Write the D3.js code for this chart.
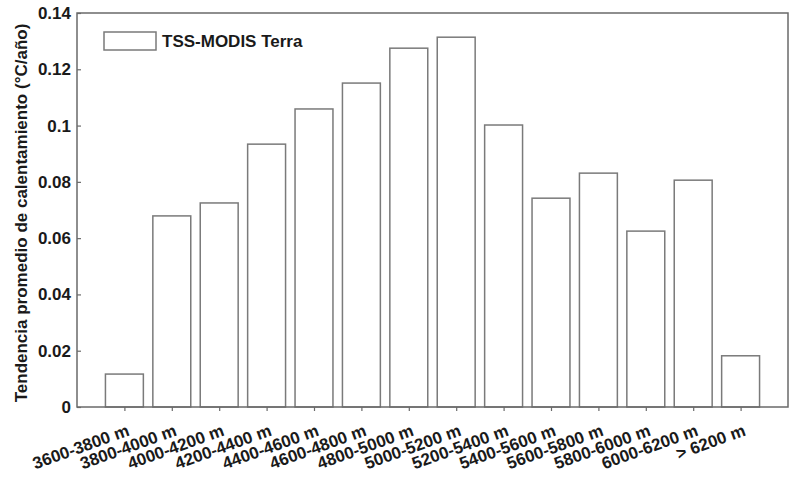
<!DOCTYPE html>
<html>
<head>
<meta charset="utf-8">
<script src="https://d3js.org/d3.v7.min.js"></script>
<style>
  body { margin: 0; background: #fff; }
  text { font-family: "Liberation Sans", Arial, sans-serif; font-weight: bold; fill: #1a1a1a; }
</style>
</head>
<body>
<script>
// altitude bands and warming trend (degC/year)
var categories = ["3600-3800 m", "3800-4000 m", "4000-4200 m", "4200-4400 m", "4400-4600 m",
                  "4600-4800 m", "4800-5000 m", "5000-5200 m", "5200-5400 m", "5400-5600 m",
                  "5600-5800 m", "5800-6000 m", "6000-6200 m", "> 6200 m"];
var values = [0.0117, 0.0679, 0.0725, 0.0934, 0.1059, 0.1151, 0.1275, 0.1314,
              0.1002, 0.0742, 0.0831, 0.0625, 0.0806, 0.0182];
var yTicks = [0, 0.02, 0.04, 0.06, 0.08, 0.1, 0.12, 0.14];
var seriesName = "TSS-MODIS Terra";
var yTitle = "Tendencia promedio de calentamiento (°C/año)";

(function() {
  var W = 789, H = 479;
  var pl = 77, pr = 788, pt = 13, pb = 407;

  var svg = d3.select("body").append("svg").attr("width", W).attr("height", H);

  // matlab-like: positions 1..n, limits 0..n+1
  var x = d3.scaleLinear().domain([0, categories.length + 1]).range([pl, pr]);
  var y = d3.scaleLinear().domain([0, 0.14]).range([pb, pt]);
  var bw = (x(1) - x(0)) * 0.8;

  // bars
  svg.selectAll("rect.bar")
    .data(values)
    .enter().append("rect")
    .attr("class", "bar")
    .attr("x", function(d, i) { return x(i + 1) - bw / 2; })
    .attr("y", function(d) { return y(d); })
    .attr("width", bw)
    .attr("height", function(d) { return y(0) - y(d); })
    .attr("fill", "#fff")
    .attr("stroke", "#7a7a7a")
    .attr("stroke-width", 1.5);

  // frame
  svg.append("rect")
    .attr("x", pl).attr("y", pt)
    .attr("width", pr - pl).attr("height", pb - pt)
    .attr("fill", "none").attr("stroke", "#6a6a6a").attr("stroke-width", 1.5);

  // y axis
  var yAxis = d3.axisLeft(y).tickValues(yTicks).tickSize(-4).tickPadding(6)
    .tickFormat(function(d) { return d === 0 ? "0" : String(+d.toFixed(2)); });
  var gy = svg.append("g").attr("transform", "translate(" + pl + ",0)").call(yAxis);
  gy.select(".domain").remove();
  gy.selectAll(".tick line").attr("stroke", "#6a6a6a").attr("stroke-width", 1.2);
  gy.selectAll(".tick text").style("font-size", "17px").attr("fill", "#1a1a1a");

  // x axis
  var xAxis = d3.axisBottom(x).tickValues(d3.range(1, categories.length + 1)).tickSize(4).tickFormat("");
  var gx = svg.append("g").attr("transform", "translate(0," + pb + ")").call(xAxis);
  gx.select(".domain").remove();
  gx.selectAll(".tick line").attr("stroke", "#6a6a6a").attr("stroke-width", 1.2);

  svg.selectAll("text.xl")
    .data(categories)
    .enter().append("text")
    .attr("class", "xl")
    .attr("text-anchor", "end")
    .attr("transform", function(d, i) { return "translate(" + (x(i + 1) + 6) + "," + (pb + 28) + ") rotate(-20)"; })
    .style("font-size", "17px")
    .text(function(d) { return d; });

  // y title
  svg.append("text")
    .attr("text-anchor", "middle")
    .attr("transform", "translate(27,213) rotate(-90)")
    .style("font-size", "17px")
    .text(yTitle);

  // legend
  svg.append("rect")
    .attr("x", 104).attr("y", 32).attr("width", 52).attr("height", 18)
    .attr("fill", "#fff").attr("stroke", "#7a7a7a").attr("stroke-width", 1.5);
  svg.append("text")
    .attr("x", 162).attr("y", 47)
    .style("font-size", "17px")
    .text(seriesName);
})();
</script>
</body>
</html>
